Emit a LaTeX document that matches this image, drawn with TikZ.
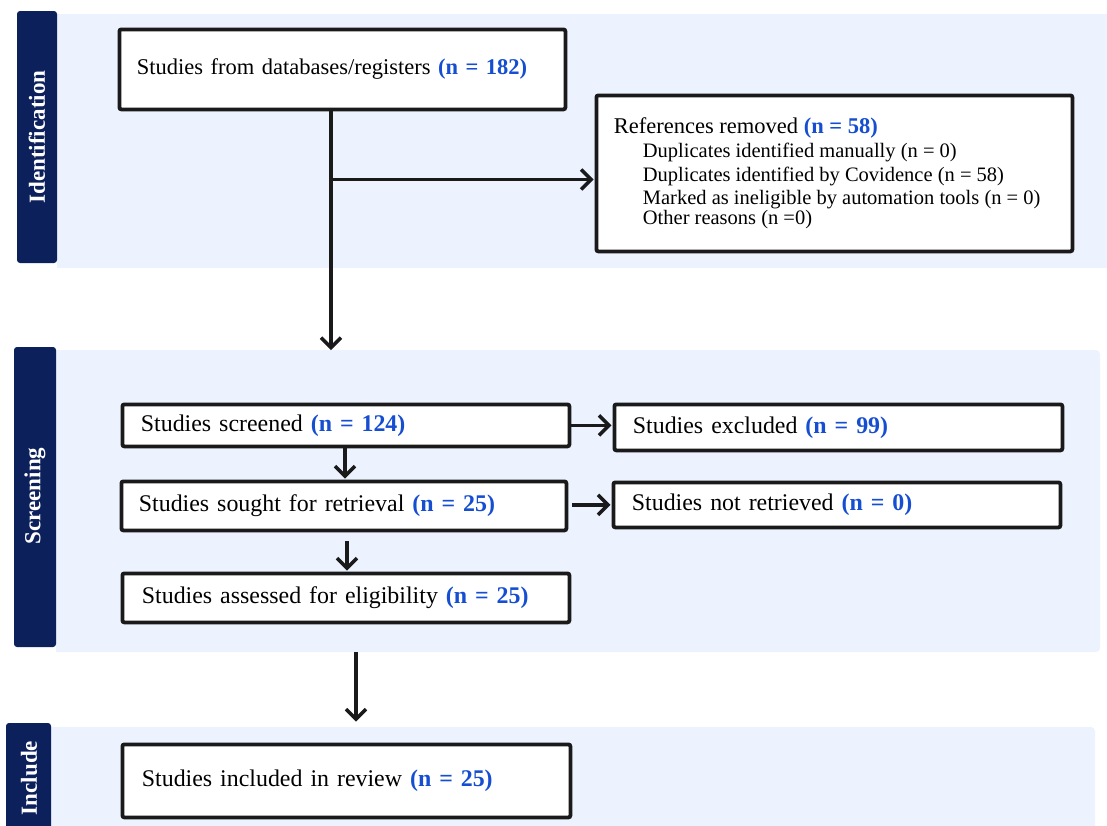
\documentclass[tikz,border=0pt]{standalone}
\usepackage{fontspec}
\setmainfont{Liberation Serif}
\usetikzlibrary{arrows.meta}
\definecolor{navy}{RGB}{12,32,92}
\definecolor{panelc}{RGB}{236,243,254}
\definecolor{nblue}{RGB}{22,78,210}
\definecolor{ink}{RGB}{26,26,26}
\newcommand{\nn}[1]{\textbf{\color{nblue}#1}}
\newcommand{\fsz}[2]{\fontsize{#1}{#2}\selectfont\spaceskip=0.25em\relax\xspaceskip=0.25em\relax}
\tikzset{
 box/.style={draw=ink, line width=3.8pt, rounded corners=2pt, fill=white, anchor=north west,
   align=left, inner ysep=0pt, text=black},
 conn/.style={draw=ink, line width=3.5pt, -{Straight Barb[length=10pt,width=20pt]}},
 bandc/.style={fill=navy, rounded corners=3pt},
 bandlabel/.style={rotate=90, text=white, font=\fsz{23}{26}\bfseries},
 bigtext/.style={font=\fsz{23.9}{29}},
}
\begin{document}
\begin{tikzpicture}[x=1pt,y=-1pt]
\useasboundingbox (0,0) rectangle (1107,825);
\clip (0,0) rectangle (1107,825);
% panels
\fill[panelc] (57,14) rectangle (1110,268);
\fill[panelc] (56,350) [rounded corners=4pt] -- (1100,350) -- (1100,652) [sharp corners] -- (56,652) -- cycle;
\fill[panelc] (51,727) [rounded corners=4pt] -- (1095,727) -- (1095,840) [sharp corners] -- (51,840) -- cycle;
\fill[bandc] (17,11) rectangle (57,263);
\fill[bandc] (14,347) rectangle (56,647);
\fill[bandc] (6,723) rectangle (51,840);
\node[bandlabel] (lid) at (37,137) {Identification};
\node[bandlabel] (lsc) at (35,496) {Screening};
\node[bandlabel] (lin) at (29,778) {Include};
% boxes
\node[box, minimum width=446pt, minimum height=80pt, inner xsep=17.5pt, text width=411pt,
  font=\fsz{22.5}{27}] (src) at (117.5,27.5)
  {Studies from databases/registers \nn{(n = 182)}};
\node[box, minimum width=476pt, minimum height=156pt, inner xsep=17.5pt, text width=441pt] (refs) at (594.5,93.5)
  {\fsz{22.5}{23.7}References removed \nn{(n = 58)}\\
   \fsz{20.5}{23.7}%
   \hspace*{29pt}Duplicates identified manually (n = 0)\\
   \hspace*{29pt}Duplicates identified by Covidence (n = 58)\\
   \hspace*{29pt}Marked as ineligible by automation tools (n = 0)\\
   \hspace*{29pt}Other reasons (n =0)};
\node[box, bigtext, minimum width=447pt, minimum height=42pt, inner xsep=18.5pt, text width=410pt] (scr) at (120.5,402.5)
  {Studies screened \nn{(n = 124)}};
\node[box, bigtext, minimum width=445pt, minimum height=49pt, inner xsep=17.5pt, text width=410pt] (sou) at (119.5,479.5)
  {Studies sought for retrieval \nn{(n = 25)}};
\node[box, bigtext, minimum width=447pt, minimum height=49pt, inner xsep=19.5pt, text width=408pt] (ass) at (120.5,571.5)
  {Studies assessed for eligibility \nn{(n = 25)}};
\node[box, bigtext, minimum width=448pt, minimum height=46pt, inner xsep=18.5pt, text width=411pt] (exc) at (612.5,402.5)
  {Studies excluded \nn{(n = 99)}};
\node[box, bigtext, minimum width=447pt, minimum height=45pt, inner xsep=18.5pt, text width=410pt] (ret) at (611.5,480.5)
  {Studies not retrieved \nn{(n = 0)}};
\node[box, bigtext, minimum width=448pt, minimum height=73pt, inner xsep=19.5pt, text width=409pt] (inc) at (120.5,742.5)
  {Studies included in review \nn{(n = 25)}};
% connectors
\coordinate (j) at (331,179.5);
\coordinate (t1) at (331,350);
\coordinate (x1) at (345,0);
\coordinate (x2) at (347,0);
\coordinate (s3) at (356,652);
\draw[conn, arrows=-] (src.south -| j) -- (j);
\draw[conn] (j) -- (t1);
\draw[conn, shorten >=1pt] (j) -- (j -| refs.west);
\draw[conn, shorten >=1pt] (scr.south -| x1) -- (sou.north -| x1);
\draw[conn, shorten <=9pt, shorten >=1pt] (sou.south -| x2) -- (ass.north -| x2);
\draw[conn, shorten >=1pt] (scr.east) -- (scr.east -| exc.west);
\draw[conn, shorten <=4pt, shorten >=1pt] (sou.east |- ret.west) -- (ret.west);
\draw[conn, shorten >=21pt] (s3) -- (s3 |- inc.north);
\end{tikzpicture}
\end{document}
